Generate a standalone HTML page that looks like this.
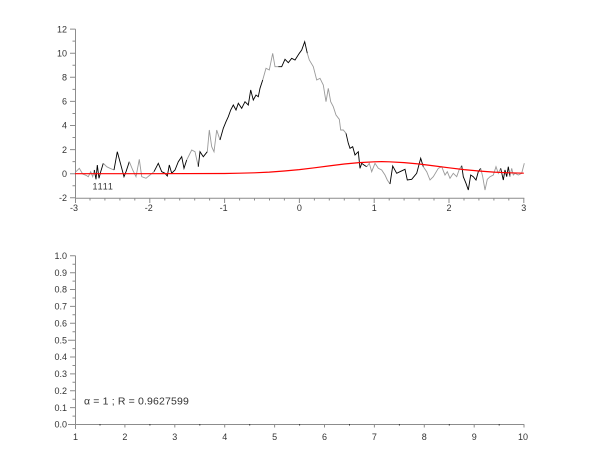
<!DOCTYPE html>
<html><head><meta charset="utf-8"><style>
html,body{margin:0;padding:0;background:#fff;}
svg{display:block;}
text{font-family:"Liberation Sans",Arial,sans-serif;font-size:9px;fill:#333;}
</style></head><body>
<svg width="600" height="452" viewBox="0 0 600 452" xmlns="http://www.w3.org/2000/svg">
<!-- TOP PLOT axes -->
<g stroke="#8c8c8c" stroke-width="1" fill="none">
<path d="M75.5 29.1V198.3H524.3"/>
<path d="M70 29.1H75.5M70 53.2H75.5M70 77.3H75.5M70 101.4H75.5M70 125.5H75.5M70 149.6H75.5M70 173.7H75.5M70 197.8H75.5"/>
<path d="M72.5 41.15H75.5M72.5 65.25H75.5M72.5 89.35H75.5M72.5 113.45H75.5M72.5 137.55H75.5M72.5 161.65H75.5M72.5 185.75H75.5"/>
<path d="M75.5 198V203M149.8 198V203M224.6 198V203M299.4 198V203M374.2 198V203M449 198V203M523.8 198V203"/>
<path d="M90 198V200.5M104.9 198V200.5M119.9 198V200.5M134.8 198V200.5M164.8 198V200.5M179.7 198V200.5M194.7 198V200.5M209.6 198V200.5M239.6 198V200.5M254.5 198V200.5M269.5 198V200.5M284.4 198V200.5M314.4 198V200.5M329.3 198V200.5M344.3 198V200.5M359.2 198V200.5M389.2 198V200.5M404.1 198V200.5M419.1 198V200.5M434 198V200.5M464 198V200.5M478.9 198V200.5M493.9 198V200.5M508.8 198V200.5"/>
</g>
<g text-anchor="end">
<text x="67" y="32.3">12</text>
<text x="67" y="56.4">10</text>
<text x="67" y="80.5">8</text>
<text x="67" y="104.6">6</text>
<text x="67" y="128.7">4</text>
<text x="67" y="152.8">2</text>
<text x="67" y="176.9">0</text>
<text x="67" y="201">-2</text>
</g>
<g text-anchor="middle">
<text x="74" y="211">-3</text>
<text x="148.8" y="211">-2</text>
<text x="223.6" y="211">-1</text>
<text x="299.4" y="211">0</text>
<text x="374.2" y="211">1</text>
<text x="449" y="211">2</text>
<text x="523.8" y="211">3</text>
</g>

<!-- noisy data -->
<g fill="none" stroke-width="0.9" stroke-linejoin="miter">
<polyline stroke="#9a9a9a" points="76,171.7 79.3,168.3 82.7,174 86,175.3 88.3,176.7 90.7,171.7 92.7,176.7 94.3,170"/>
<polyline stroke="#000" points="94.3,170 96,179.3 97.3,165 99,178.3 100.7,171.7 103.3,163.3"/>
<polyline stroke="#9a9a9a" points="103.3,163.3 106.7,166.7 110,168.3 114,170"/>
<polyline stroke="#000" points="114,170 117.3,151.7 120,161.7 124,176.7 126,171.7 129.3,161.7"/>
<polyline stroke="#9a9a9a" points="129.3,161.7 132.7,170 136,176.7 139.3,159.3 141.7,176.7 146,178.3 150,175 154,171.7"/>
<polyline stroke="#000" points="154,171.7 158.3,163.3 161.7,171.7 165,173.3 167.3,176 169.3,165 171.7,173.3 175,170 178.3,161.7 181.7,156.7 184,168.3 186.7,160"/>
<polyline stroke="#9a9a9a" points="186.7,160 191.7,150 195,151.7 198.3,166.7"/>
<polyline stroke="#000" points="198.3,166.7 200,151.7 203.3,156.7 207.3,151.7"/>
<polyline stroke="#9a9a9a" points="207.3,151.7 209.3,130 211.7,146.7 214,151.7 216.7,130 220,140"/>
<polyline stroke="#000" points="220,140 223.3,128.3 226,121.7 228.3,116.7 230.7,110 233.3,105 236,110 238.3,103.3 241.7,108.3 245,101.7 248.3,105 250.7,90 253.3,100 256,95 258.3,96.7 260,88.3 262.7,80"/>
<polyline stroke="#9a9a9a" points="262.7,80 266,68.3 269.3,70 272.7,53.3 275,66.7 278.3,66.7"/>
<polyline stroke="#000" points="278.3,66.7 281.7,66.7 285,59.3 288.3,62.7 291.7,58.3 295,60 299.3,53.3 301.7,50 304.7,41.7 307.3,53.3"/>
<polyline stroke="#9a9a9a" points="307.3,53.3 309.3,60 313.3,66.7 316.7,80 320,78.3 323.3,85 326,101.7 328.3,88.3 330.7,101.7 333.3,106.7 336,115 339.3,119.3 340.7,130 343.3,130 346,133.3"/>
<polyline stroke="#000" points="346,133.3 348.3,143.3 350,148.3 352.7,146.7 355,155 358.3,151.7 360,168.3 361.7,163.3 364,165 366.7,166.7"/>
<polyline stroke="#9a9a9a" points="366.7,166.7 369.3,163.3 371.7,171.7 375,163.3 378.3,168.3 381.7,170 385,175 387.3,180 390,184"/>
<polyline stroke="#000" points="390,184 392.7,166 396.7,173.3 400,171.7 405,169.3 407.3,180 411.7,179.3 416.7,173.3 420.7,158.3 423.3,166.7"/>
<polyline stroke="#9a9a9a" points="423.3,166.7 426.7,171.7 430,180 433.3,176.7 438.3,168.3 441.7,166.7 445,175 447.3,171.7 450,178.3 453.3,173.3 456.7,176.7 459.3,169.3 461.7,165.7"/>
<polyline stroke="#000" points="461.7,165.7 463.3,176.7 466,183.3 468.3,190 470.7,175 473.3,176.7 476,180 478.3,171.7 480.7,168.3"/>
<polyline stroke="#9a9a9a" points="480.7,168.3 482.7,176.7 485,190 487.3,179.3 490,176.7 493.3,175 496,166.7 498.3,173.3 500.7,168.3"/>
<polyline stroke="#000" points="500.7,168.3 503.3,180 505,170 506.7,176.7 508.3,166.7 510,176.7"/>
<polyline stroke="#9a9a9a" points="510,176.7 511.7,168.3 513.3,175 515,173.3 518.3,175 521.7,173.3 524.3,163.3"/>
</g>

<!-- red fit curve -->
<polyline fill="none" stroke="#ff0000" stroke-width="1.2" points="75,173.7 150,173.7 224.6,173.5 239.6,173.2 254.3,172.8 269.3,172.1 284.2,171 299.4,169.6 314.4,167.8 329.3,165.9 344.3,164 359.2,162.6 374.2,161.8 381.7,161.65 389.2,161.8 404.1,162.6 419.1,164 434,165.9 449,167.8 464,169.6 478.9,171 493.9,172.1 508.8,172.8 523.8,173.2"/>

<text x="92.5" y="189.5" letter-spacing="0.8">1111</text>

<!-- BOTTOM PLOT axes -->
<g stroke="#8c8c8c" stroke-width="1" fill="none">
<path d="M75.5 255.8V424.5H524.3"/>
<path d="M70 255.8H75.5M70 272.7H75.5M70 289.5H75.5M70 306.4H75.5M70 323.3H75.5M68 340.2H75.5M70 357H75.5M70 373.9H75.5M70 390.8H75.5M70 407.6H75.5M68 424.5H75.5"/>
<path d="M72.5 264.2H75.5M72.5 281.1H75.5M72.5 298H75.5M72.5 314.8H75.5M72.5 331.7H75.5M72.5 348.6H75.5M72.5 365.5H75.5M72.5 382.3H75.5M72.5 399.2H75.5M72.5 416.1H75.5"/>
<path d="M75.5 424.5V429M124.9 424.5V427.5M174.8 424.5V427.5M224.7 424.5V427.5M274.6 424.5V427.5M324.5 424.5V427.5M374.4 424.5V427.5M424.3 424.5V427.5M474.2 424.5V427.5M524 424.5V427.5"/>
</g>
<g fill="#333">
<rect x="99.5" y="424" width="1" height="1.5"/>
<rect x="149.4" y="424" width="1" height="1.5"/>
<rect x="199.3" y="424" width="1" height="1.5"/>
<rect x="249.2" y="424" width="1" height="1.5"/>
<rect x="299.1" y="424" width="1" height="1.5"/>
<rect x="349" y="424" width="1" height="1.5"/>
<rect x="398.9" y="424" width="1" height="1.5"/>
<rect x="448.8" y="424" width="1" height="1.5"/>
<rect x="498.7" y="424" width="1" height="1.5"/>
</g>
<g text-anchor="end">
<text x="67" y="259">1.0</text>
<text x="67" y="275.9">0.9</text>
<text x="67" y="292.7">0.8</text>
<text x="67" y="309.6">0.7</text>
<text x="67" y="326.5">0.6</text>
<text x="67" y="343.4">0.5</text>
<text x="67" y="360.2">0.4</text>
<text x="67" y="377.1">0.3</text>
<text x="67" y="394">0.2</text>
<text x="67" y="410.8">0.1</text>
<text x="67" y="427.7">0.0</text>
</g>
<g text-anchor="middle">
<text x="75.5" y="440">1</text>
<text x="124.9" y="440">2</text>
<text x="174.8" y="440">3</text>
<text x="224.7" y="440">4</text>
<text x="274.6" y="440">5</text>
<text x="324.5" y="440">6</text>
<text x="374.4" y="440">7</text>
<text x="424.3" y="440">8</text>
<text x="474.2" y="440">9</text>
<text x="523" y="440">10</text>
</g>
<text x="84" y="404.5" style="font-size:10.5px" letter-spacing="0.15">α = 1 ; R = 0.9627599</text>
</svg>
</body></html>
